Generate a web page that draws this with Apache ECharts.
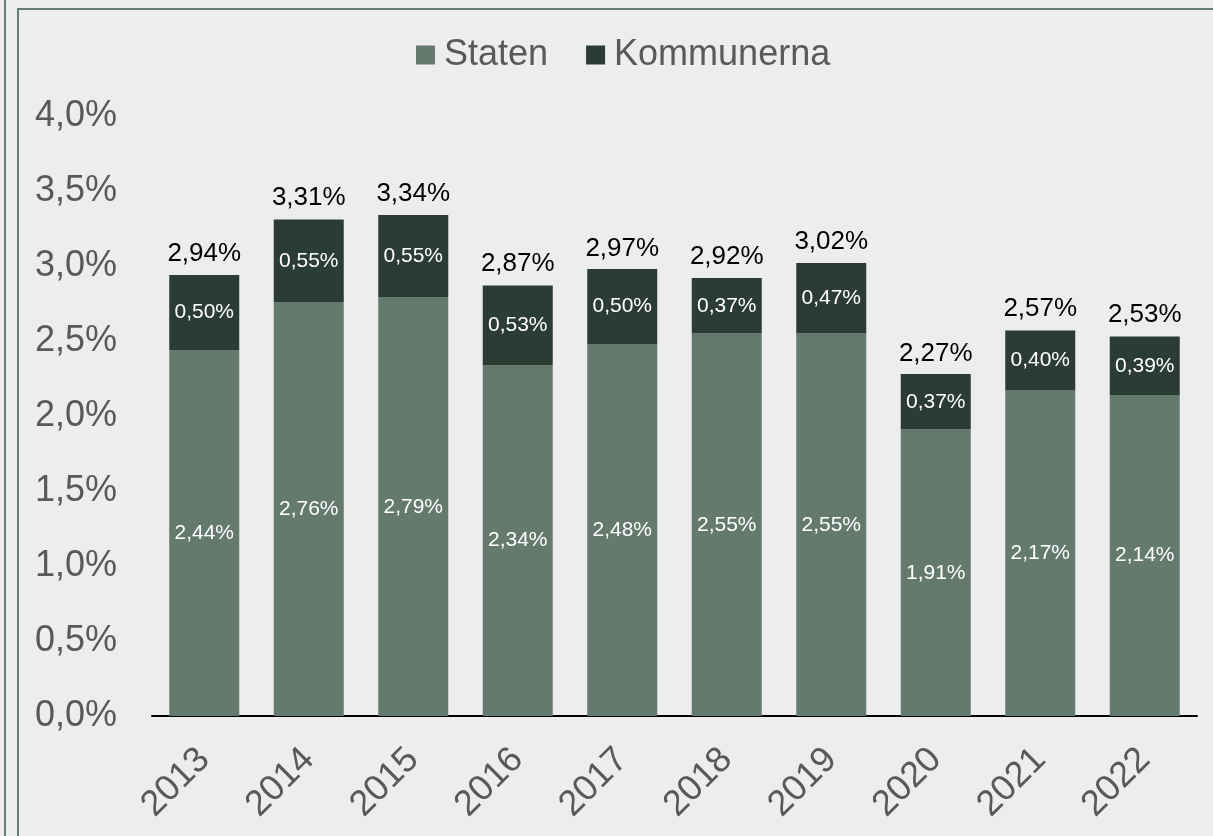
<!DOCTYPE html>
<html>
<head>
<meta charset="utf-8">
<script src="https://cdn.jsdelivr.net/npm/echarts@6/dist/echarts.min.js"></script>
<style>
  html, body { margin: 0; padding: 0; background: #ededed; }
  #frame { position: absolute; left: 17px; top: 8px; width: 1300px; height: 900px;
           border-left: 2px solid #667d72; border-top: 2px solid #667d72; }
  #edge { position: absolute; left: 4px; top: 0; width: 0; height: 836px; border-left: 2px solid #667d72; }
  #chart { position: absolute; left: 0; top: 0; width: 1213px; height: 836px; }
</style>
</head>
<body>
<div id="edge"></div>
<div id="frame"></div>
<div id="chart"></div>
<script>
    var years = ['2013', '2014', '2015', '2016', '2017', '2018', '2019', '2020', '2021', '2022'];
    var staten = [2.44, 2.76, 2.79, 2.34, 2.48, 2.55, 2.55, 1.91, 2.17, 2.14];
    var kommunerna = [0.50, 0.55, 0.55, 0.53, 0.50, 0.37, 0.47, 0.37, 0.40, 0.39];
    var totals = [2.94, 3.31, 3.34, 2.87, 2.97, 2.92, 3.02, 2.27, 2.57, 2.53];

    // svensk decimalkomma
    function pct(v, d) {
        return v.toFixed(d).replace('.', ',') + '%';
    }

    var font = 'Liberation Sans, Arial, sans-serif';
    var chart = echarts.init(document.getElementById('chart'));
    var option = {
        backgroundColor: 'transparent',
        textStyle: { fontFamily: font },
        legend: {
            data: ['Staten', 'Kommunerna'],
            top: 32,
            left: 411,
            icon: 'rect',
            itemWidth: 19,
            itemHeight: 19,
            itemGap: 38,
            textStyle: { fontSize: 36, color: '#595959', fontFamily: font, padding: [0, 0, 0, 4] }
        },
        grid: { left: 152, right: 16, top: 116, bottom: 120 },
        xAxis: {
            type: 'category',
            data: years,
            axisLine: { lineStyle: { color: '#000', width: 2 } },
            axisTick: { show: false },
            axisLabel: { rotate: 45, fontSize: 36, color: '#595959', margin: 38, fontFamily: font }
        },
        yAxis: {
            type: 'value',
            min: 0,
            max: 4,
            interval: 0.5,
            splitLine: { show: false },
            axisLine: { show: false },
            axisLabel: {
                fontSize: 36, color: '#595959', margin: 35, fontFamily: font,
                formatter: function (v) { return pct(v, 1); }
            }
        },
        series: [
            {
                name: 'Staten',
                type: 'bar',
                stack: 'tot',
                barWidth: '67%',
                data: staten,
                itemStyle: { color: '#647a6f' },
                label: {
                    show: true, position: 'inside', color: '#fff', fontSize: 21,
                    formatter: function (p) { return pct(p.value, 2); }
                }
            },
            {
                name: 'Kommunerna',
                type: 'bar',
                stack: 'tot',
                data: kommunerna,
                itemStyle: { color: '#2b3c35' },
                label: {
                    show: true, position: 'inside', color: '#fff', fontSize: 21,
                    formatter: function (p) { return pct(p.value, 2); }
                }
            },
            {
                name: 'Totalt',
                type: 'line',
                data: totals,
                symbol: 'circle',
                symbolSize: 1,
                showSymbol: true,
                itemStyle: { color: 'rgba(0,0,0,0)' },
                lineStyle: { width: 0, color: 'rgba(0,0,0,0)' },
                silent: true,
                label: {
                    show: true, position: 'top', distance: 8, color: '#000', fontSize: 26,
                    formatter: function (p) { return pct(p.value, 2); }
                },
                z: 5
            }
        ]
    };
    chart.setOption(option);
</script>
</body>
</html>
